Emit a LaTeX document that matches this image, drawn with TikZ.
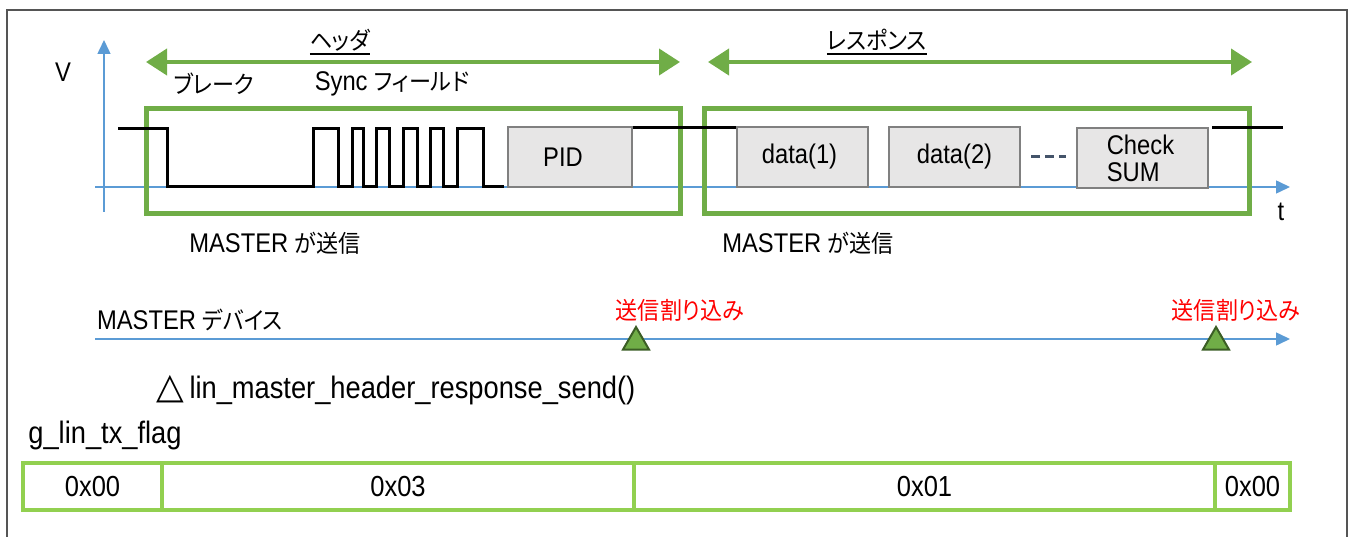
\documentclass[tikz,border=0pt]{standalone}
\usepackage{fontspec}
\setmainfont{Liberation Sans}[FakeStretch=0.88]
\newfontfamily\jp{Noto Sans CJK JP}[Scale=0.89,FakeStretch=0.92,RawFeature=+palt]
\newfontfamily\symfont{DejaVu Sans}
\usetikzlibrary{arrows.meta,shapes.geometric}
\newcommand{\J}[1]{{\jp #1}}
\definecolor{hdrgreen}{HTML}{70AD47}
\definecolor{flaggreen}{HTML}{92D050}
\definecolor{axisblue}{HTML}{5B9BD5}
\definecolor{fieldfill}{HTML}{E7E6E6}
\definecolor{fieldedge}{HTML}{808080}
\definecolor{dotsgray}{HTML}{44546A}
\definecolor{triedge}{HTML}{3B5E25}
\definecolor{framegray}{HTML}{555555}
\tikzset{
  lbl/.style={inner sep=0pt},
  span/.style={hdrgreen, line width=4pt, {Triangle[length=21pt,width=26pt]}-{Triangle[length=21pt,width=26pt]}},
  sendframe/.style={draw=hdrgreen, line width=5pt, inner sep=0pt, minimum height=105pt},
  field/.style={draw=fieldedge, fill=fieldfill, line width=2.5pt, minimum width=131pt, minimum height=60pt, inner sep=0pt},
  axis/.style={axisblue, line width=1.5pt, -{Triangle[length=14pt,width=13pt]}},
  wave/.style={black, line width=3pt},
  irq/.style={regular polygon, regular polygon sides=3, fill=hdrgreen, draw=triedge, line width=2pt, minimum size=30pt, inner sep=0pt},
  irqtext/.style={lbl, text=red},
  flagcell/.style={draw=flaggreen, line width=4pt, minimum height=47pt, inner sep=0pt, font=\fontsize{29}{30}\selectfont},
}
\begin{document}
\begin{tikzpicture}[x=1pt, y=-1pt, font=\fontsize{27}{30}\selectfont]
\useasboundingbox (0,0) rectangle (1356,537);
% outer frame, open at the bottom
\draw[framegray, line width=1.5pt] (7,537) -- (7,10) -- (1347,10) -- (1347,537);

% time / voltage axes
\coordinate (vbot) at (104,212);
\coordinate (vtop) at (104,40);
\coordinate (tleft) at (95,187);
\coordinate (tright) at (1290,187);
\draw[axis] (vbot) -- (vtop);
\draw[axis] (tleft) -- (tright);
\node[lbl] (vlbl) at (63,72) {V};
\node[lbl] (tlbl) at (1281,212) {t};

% header / response spans
\coordinate (hdrL) at (146,62);
\coordinate (hdrR) at (680,62);
\coordinate (rspL) at (708,62);
\coordinate (rspR) at (1252,62);
\draw[span] (hdrL) -- (hdrR);
\draw[span] (rspL) -- (rspR);
\node[lbl, anchor=base] (hdrlbl) at (340,50) {\J{ヘッダ}};
\node[lbl, anchor=base] (rsplbl) at (877,50) {\J{レスポンス}};
\draw[line width=1.5pt] ([yshift=-4pt]hdrlbl.base west) -- ([yshift=-4pt]hdrlbl.base east);
\draw[line width=1.5pt] ([yshift=-4pt]rsplbl.base west) -- ([yshift=-4pt]rsplbl.base east);
\node[lbl] (brk) at (214,84) {\J{ブレーク}};
\node[lbl] (sync) at (392,84) {Sync \J{フィールド}};

% frames of what the master sends
\node[sendframe, minimum width=534pt] (hdrbox) at (413,161.5) {};
\node[sendframe, minimum width=545pt] (rspbox) at (976.5,161.5) {};

% break + sync field waveform
\draw[wave] (118,129) -| (167,187) -| (313,129) -| (338,187) -| (352,129)
  -| (363,187) -| (376,129) -| (389,187) -| (403,129) -| (417,187)
  -| (430,129) -| (443,187) -| (457,129) -| (483,187) -- (504,187);

% byte fields
\node[field, minimum width=124pt, text width=110pt, align=center] (pid) at (570,157) {\hspace*{-14pt}PID};
\node[field] (d1) at (802.5,157) {\hspace*{-6pt}data(1)};
\node[field] (d2) at (954.5,157) {data(2)};
\node[field, align=left, font=\fontsize{27}{27}\selectfont] (cs) at (1142.5,158) {\hspace*{-4pt}Check\\\hspace*{-4pt}SUM};
\coordinate (idle) at (1283,128);
\draw[wave] (pid.east |- idle) -- (d1.west |- idle);
\draw[wave] ([xshift=3pt]cs.east |- idle) -- (idle);
\draw[dotsgray, line width=3pt, dash pattern=on 9pt off 5pt] ([xshift=10pt]d2.east) -- ([xshift=-10pt]cs.west |- d2.east);

\node[lbl] (snd1) at (275,243) {MASTER \J{が送信}};
\node[lbl] (snd2) at (808,243) {MASTER \J{が送信}};

% master device interrupt line
\node[lbl] (dev) at (190,320) {MASTER \J{デバイス}};
\coordinate (dleft) at (95,339);
\coordinate (dright) at (1290,339);
\draw[axis] (dleft) -- (dright);
\node[irq] (irq1) at (636,342) {};
\node[irq] (irq2) at (1216,342) {};
\node[irqtext] (irq1lbl) at (680,310) {\J{送信割り込み}};
\node[irqtext] (irq2lbl) at (1236,310) {\J{送信割り込み}};

\node[lbl, font=\fontsize{31}{34}\selectfont] (call) at (396,390) {{\symfont\fontsize{36}{36}\selectfont △}\,lin\_master\_header\_response\_send()};
\node[lbl, font=\fontsize{31}{34}\selectfont] (flag) at (105,435) {g\_lin\_tx\_flag};

% flag value timeline
\node[flagcell, minimum width=139pt] (f0) at (92.5,486.5) {0x00};
\node[flagcell, minimum width=472pt] (f3) at (398,486.5) {0x03};
\node[flagcell, minimum width=581pt] (f1) at (924.5,486.5) {0x01};
\node[flagcell, minimum width=75pt] (f00) at (1252.5,486.5) {0x00};
\end{tikzpicture}
\end{document}
